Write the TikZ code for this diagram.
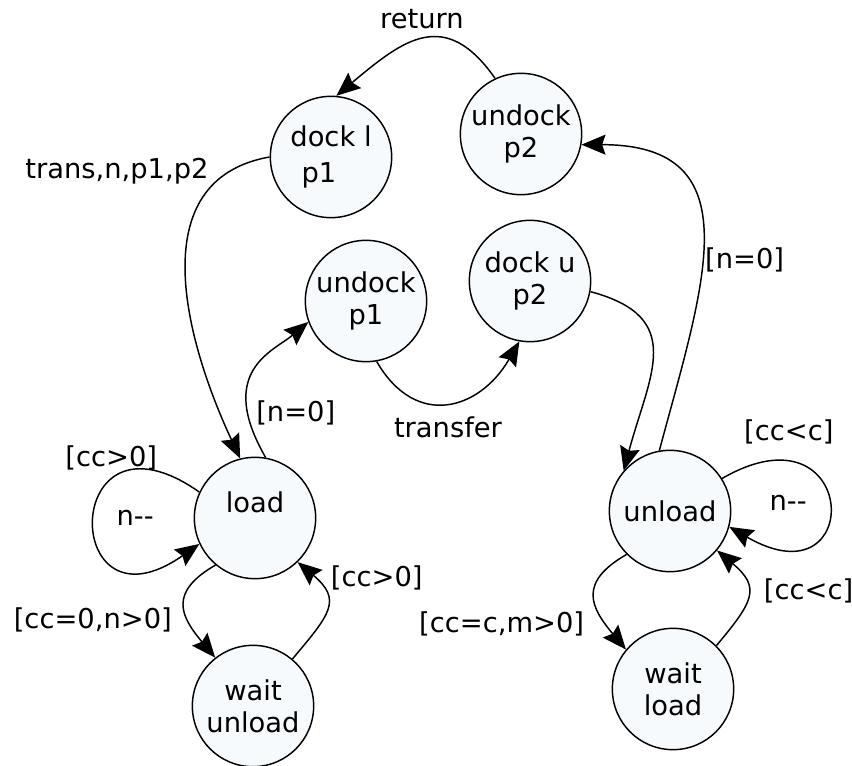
\documentclass[tikz,border=0pt]{standalone}
\usepackage{fontspec}
\setmainfont{DejaVu Sans}
\usetikzlibrary{arrows.meta}
\definecolor{statefill}{HTML}{F7FAFC}

\begin{document}
\begin{tikzpicture}[
    x=0.75pt, y=0.75pt,
    state/.style={draw, circle, line width=1.1pt, minimum size=91pt, inner sep=0pt,
                  align=center, fill=statefill, font=\fontsize{20.5}{24}\selectfont},
    lbl/.style={font=\fontsize{20.5}{24}\selectfont, inner sep=2pt},
    link/.style={->, line width=1.1pt},
    >={Stealth[length=18pt, width=15pt, inset=2.5pt]}
]
\useasboundingbox (0,0) rectangle (852,765);

\node[state] (dockl)   at (331,608) {dock l\\[3pt]\hspace*{-18pt}p1};
\node[state] (undockb) at (521,631) {undock\\p2};
\node[state] (undocka) at (366,464) {undock\\p1};
\node[state] (docku)   at (530,484) {dock u\\p2};
\node[state] (load)    at (255,247) {load\\\mbox{}};
\node[state] (waitu)   at (253,59)  {wait\\unload};
\node[state] (unload)  at (670,254) {unload};
\node[state] (waitl)   at (673,76)  {wait\\load};

\draw[link] (undockb.115) to[out=125, in=40, looseness=1.4]
    node[lbl, pos=0.5, above=5pt] {return} (dockl.85);
\draw[link] (dockl.west) to[out=190, in=115, looseness=1.1]
    node[lbl, pos=0.12, left=14pt] {trans,n,p1,p2} (load.104);
\draw[link] (load.80) to[out=120, in=220, out distance=75pt, in distance=34pt]
    node[lbl, pos=0.2, right=4pt] {[n=0]} (undocka.200);
\draw[link] (undocka.-80) to[out=-60, in=-120, looseness=1.4]
    node[lbl, pos=0.5, below=8pt] {transfer} (docku.-100);
\draw[link] (docku.-10) to[out=-15, in=75, looseness=1.4] (unload.139);
\draw[link] (unload.100) to[out=75, in=0, looseness=1.4]
    node[lbl, pos=0.43, right=0pt] {[n=0]} (undockb.-10);

\draw[link] (load.155) to[out=145, in=215, distance=128pt]
    node[lbl, pos=0.3, above=4pt] {[cc>0]}
    node[lbl, pos=0.5, right=14pt] {n-{}-} (load.205);
\draw[link] (load.230) to[out=210, in=130, looseness=1.5]
    node[lbl, pos=0.65, left=10pt] {[cc=0,n>0]} (waitu.128);
\draw[link] (waitu.50) to[out=50, in=-40, looseness=1.55]
    node[lbl, pos=0.85, right=10pt] {[cc>0]} (load.-46);

\draw[link] (unload.32) to[out=30, in=-30, distance=119pt]
    node[lbl, pos=0.2, above=10pt] {[cc<c]}
    node[lbl, pos=0.5, left=14pt] {n-{}-} (unload.-15);
\draw[link] (unload.225) to[out=210, in=130, looseness=1.5]
    node[lbl, pos=0.78, left=14pt] {[cc=c,m>0]} (waitl.140);
\draw[link] (waitl.45) to[out=50, in=-40, looseness=1.55]
    node[lbl, pos=0.55, right=10pt] {[cc<c]} (unload.-40);
\end{tikzpicture}
\end{document}
